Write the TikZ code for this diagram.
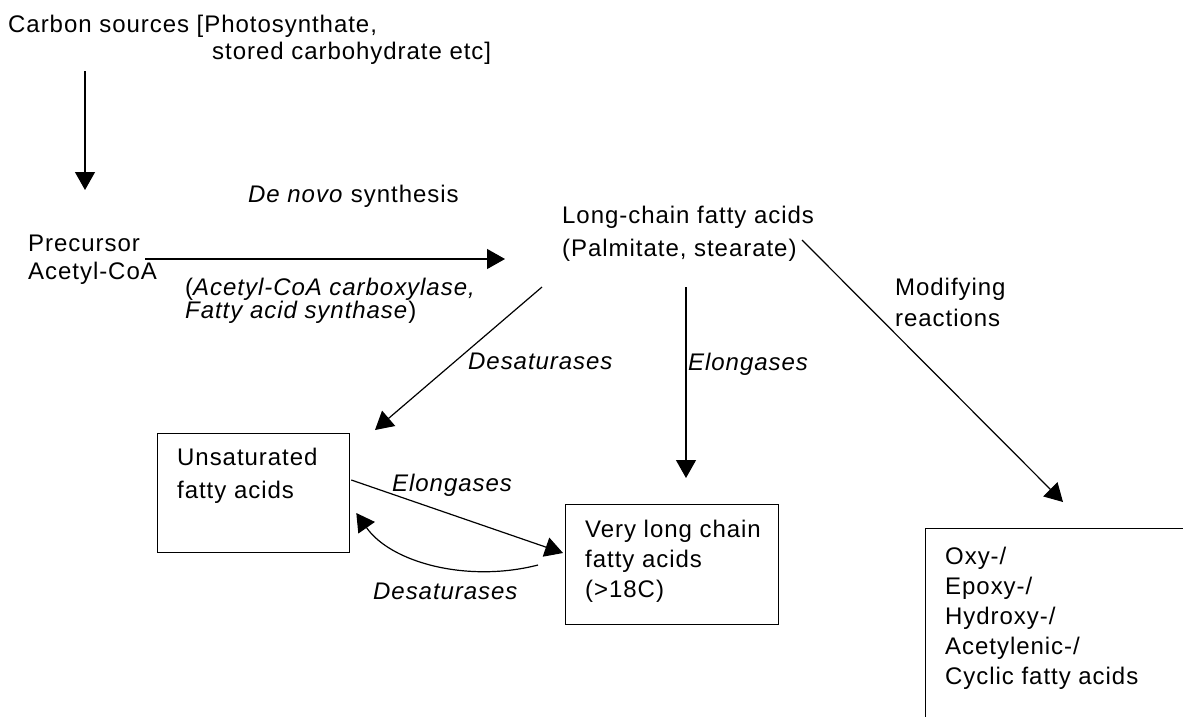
\documentclass[tikz,border=0pt]{standalone}
\usepackage{fontspec}
\setmainfont{Liberation Sans}[LetterSpace=4]
\usetikzlibrary{calc}
\usetikzlibrary{arrows.meta}
\usetikzlibrary{positioning}

\newcommand{\fsz}[1]{\fontsize{24}{#1}\selectfont}

\begin{document}
\begin{tikzpicture}[x=1pt, y=-1pt,
      txt/.style={inner sep=0pt, anchor=north west, align=left, font=\fsz{29}},
      box/.style={draw, line width=1.3pt, inner sep=0pt, anchor=north west},
      arr/.style={-{Triangle[width=20pt,length=18pt]}, line width=1.2pt}]
    \useasboundingbox (0,0) rectangle (1183,716);
    \fill[white] (0,0) rectangle (1183,716);
    \clip (0,0) rectangle (1183,716);
    % plain labels
    \node[txt, font=\fsz{27}] (carbon) at (8,15)
      {Carbon sources [Photosynthate,\\\hspace*{204pt}stored carbohydrate etc]};
    \node[txt, font=\fsz{28}] (precursor) at (28,235) {Precursor\\Acetyl-CoA};
    \node[txt] (denovo) at (248,185) {\textit{De novo} synthesis};
    \node[txt, font=\fsz{23}] (enzymes) at (185,278)
      {(\textit{Acetyl-CoA carboxylase,}\\\textit{Fatty acid synthase})};
    \node[txt, font=\fsz{33}] (lcfa) at (562,206)
      {Long-chain fatty acids\\(Palmitate, stearate)};
    \node[txt, font=\fsz{31}] (modlabel) at (895,278) {Modifying\\reactions};
    \node[txt] (desatdiag) at (468,353) {\textit{Desaturases}};
    \node[txt] (elongvert) at (688,353) {\textit{Elongases}};
    \node[txt] (elongdiag) at (392,474) {\textit{Elongases}};
    \node[txt] (desatcurve) at (373,583) {\textit{Desaturases}};
    % boxes
    \node[box, minimum width=192pt, minimum height=119pt] (unsat) at (157,433) {};
    \node[txt, font=\fsz{33}, below right=15pt and 20pt of unsat.north west]
      (unsattext) {Unsaturated\\fatty acids};
    \node[box, minimum width=213pt, minimum height=120pt] (vlcfa) at (565,504) {};
    \node[txt, font=\fsz{30}, below right=16pt and 20pt of vlcfa.north west]
      (vlcfatext) {Very long chain\\fatty acids\\(>18C)};
    \node[box, minimum width=300pt, minimum height=230pt] (mod) at (925,528) {};
    \node[txt, font=\fsz{30}, below right=19pt and 20pt of mod.north west]
      (modtext) {Oxy-/\\Epoxy-/\\Hydroxy-/\\Acetylenic-/\\Cyclic fatty acids};
    % arrows
    \draw[arr] ($(carbon.north west)+(77,56)$) -- ($(precursor.north west)+(57,-45)$);
    \draw[arr] ($(precursor.north west)+(117,24)$) -- ($(lcfa.north west)+(-57,53)$);
    \draw[arr] ($(lcfa.north west)+(-20,81)$) -- ($(unsat.north west)+(218,-3)$);
    \draw[arr] ($(lcfa.north west)+(124,81)$) -- ($(vlcfa.north west)+(121,-26)$);
    \draw[arr] ($(lcfa.north west)+(240,34)$) -- ($(mod.north west)+(138,-26)$);
    \draw[arr] ($(unsat.north east)+(1,47)$) -- ($(vlcfa.north west)+(-2,49)$);
    \draw[arr] ($(vlcfa.north west)+(-27,61)$)
      .. controls +(-70,18) and +(35,50) .. ($(unsat.north east)+(6,80)$);
\end{tikzpicture}
\end{document}
